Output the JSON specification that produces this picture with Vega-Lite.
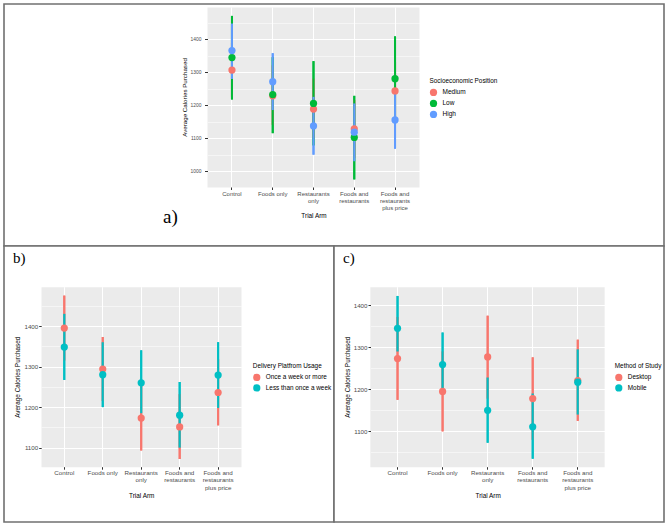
{
  "$schema": "https://vega.github.io/schema/vega-lite/v6.json",
  "padding": {"left": 3, "top": 3, "right": 0, "bottom": 0},
  "background": "white",
  "config": {
    "font": "Liberation Sans",
    "view": {"stroke": "#707070", "strokeWidth": 1.6, "fill": "white"}
  },
  "spacing": 0,
  "bounds": "flush",
  "resolve": {"scale": {"color": "independent", "stroke": "independent"}},
  "datasets": {
    "ses": [
      {"arm": "Control", "group": "Medium", "mean": 1306, "lo": 1225, "hi": 1390},
      {"arm": "Control", "group": "Low", "mean": 1344, "lo": 1217, "hi": 1470},
      {"arm": "Control", "group": "High", "mean": 1365, "lo": 1279, "hi": 1447},
      {"arm": "Foods only", "group": "Medium", "mean": 1228, "lo": 1140, "hi": 1320},
      {"arm": "Foods only", "group": "Low", "mean": 1232, "lo": 1115, "hi": 1345},
      {"arm": "Foods only", "group": "High", "mean": 1271, "lo": 1185, "hi": 1357},
      {"arm": "Restaurants\nonly", "group": "Medium", "mean": 1188, "lo": 1100, "hi": 1280},
      {"arm": "Restaurants\nonly", "group": "Low", "mean": 1205, "lo": 1078, "hi": 1333},
      {"arm": "Restaurants\nonly", "group": "High", "mean": 1137, "lo": 1050, "hi": 1225},
      {"arm": "Foods and\nrestaurants", "group": "Medium", "mean": 1128, "lo": 1040, "hi": 1215},
      {"arm": "Foods and\nrestaurants", "group": "Low", "mean": 1102, "lo": 975, "hi": 1228},
      {"arm": "Foods and\nrestaurants", "group": "High", "mean": 1118, "lo": 1030, "hi": 1205},
      {"arm": "Foods and\nrestaurants\nplus price", "group": "Medium", "mean": 1243, "lo": 1160, "hi": 1330},
      {"arm": "Foods and\nrestaurants\nplus price", "group": "Low", "mean": 1280, "lo": 1150, "hi": 1408},
      {"arm": "Foods and\nrestaurants\nplus price", "group": "High", "mean": 1155, "lo": 1068, "hi": 1240}
    ],
    "delivery": [
      {"arm": "Control", "group": "Once a week or more", "mean": 1395, "lo": 1315, "hi": 1475},
      {"arm": "Control", "group": "Less than once a week", "mean": 1348, "lo": 1267, "hi": 1430},
      {"arm": "Foods only", "group": "Once a week or more", "mean": 1294, "lo": 1215, "hi": 1373},
      {"arm": "Foods only", "group": "Less than once a week", "mean": 1280, "lo": 1200, "hi": 1360},
      {"arm": "Restaurants\nonly", "group": "Once a week or more", "mean": 1173, "lo": 1093, "hi": 1255},
      {"arm": "Restaurants\nonly", "group": "Less than once a week", "mean": 1260, "lo": 1185, "hi": 1340},
      {"arm": "Foods and\nrestaurants", "group": "Once a week or more", "mean": 1151, "lo": 1072, "hi": 1232},
      {"arm": "Foods and\nrestaurants", "group": "Less than once a week", "mean": 1180, "lo": 1100, "hi": 1262},
      {"arm": "Foods and\nrestaurants\nplus price", "group": "Once a week or more", "mean": 1236, "lo": 1155, "hi": 1318},
      {"arm": "Foods and\nrestaurants\nplus price", "group": "Less than once a week", "mean": 1279, "lo": 1198, "hi": 1360}
    ],
    "method": [
      {"arm": "Control", "group": "Desktop", "mean": 1273, "lo": 1175, "hi": 1372},
      {"arm": "Control", "group": "Mobile", "mean": 1345, "lo": 1290, "hi": 1422},
      {"arm": "Foods only", "group": "Desktop", "mean": 1195, "lo": 1100, "hi": 1290},
      {"arm": "Foods only", "group": "Mobile", "mean": 1259, "lo": 1200, "hi": 1335},
      {"arm": "Restaurants\nonly", "group": "Desktop", "mean": 1277, "lo": 1178, "hi": 1375},
      {"arm": "Restaurants\nonly", "group": "Mobile", "mean": 1150, "lo": 1073, "hi": 1228},
      {"arm": "Foods and\nrestaurants", "group": "Desktop", "mean": 1178, "lo": 1080, "hi": 1276},
      {"arm": "Foods and\nrestaurants", "group": "Mobile", "mean": 1111, "lo": 1035, "hi": 1190},
      {"arm": "Foods and\nrestaurants\nplus price", "group": "Desktop", "mean": 1221, "lo": 1125, "hi": 1318},
      {"arm": "Foods and\nrestaurants\nplus price", "group": "Mobile", "mean": 1217, "lo": 1140, "hi": 1295}
    ]
  },
  "vconcat": [
    {
      "width": 660,
      "height": 242,
      "data": {"name": "ses"},
      "title": {"text": "a)", "anchor": "start", "orient": "top", "frame": "group", "font": "Liberation Serif", "fontSize": 19, "fontWeight": "normal", "color": "black", "baseline": "alphabetic", "offset": 0, "dx": 159, "dy": 238},
      "resolve": {"axis": {"x": "independent"}},
      "layer": [
        {
          "mark": {"type": "rule", "strokeWidth": 2},
          "encoding": {
            "x": {"field": "arm", "type": "nominal", "sort": null,
              "scale": {"range": [203.5, 415.5], "paddingInner": 0, "paddingOuter": 0.1},
              "axis": {"orient": "top", "values": ["Restaurants\nonly"], "bandPosition": 0.5, "grid": true, "gridColor": "#EBEBEB", "gridWidth": 212, "gridOpacity": 1, "domain": false, "ticks": false, "labels": false, "title": null}},
            "y": {"field": "lo", "type": "quantitative",
              "scale": {"domain": [952, 1497], "range": [183, 3], "nice": false, "zero": false},
              "axis": {"orient": "left", "offset": -203.5, "title": "Average Calories Purchased", "values": [1000, 1050, 1100, 1150, 1200, 1250, 1300, 1350, 1400, 1450], "format": "d",
                "labelExpr": "datum.value % 100 === 0 ? datum.label : ''",
                "labelFontSize": 4.9, "labelColor": "#4D4D4D", "labelPadding": 3.5,
                "tickSize": 3, "tickColor": "#333333", "tickOpacity": {"condition": {"test": "datum.value % 100 === 0", "value": 1}, "value": 0},
                "domain": false, "grid": true, "gridColor": "white", "gridOpacity": 1,
                "gridWidth": {"condition": {"test": "datum.value % 100 === 0", "value": 1.1}, "value": 0.5},
                "titleFontSize": 6.2, "titleFontWeight": "normal", "titleColor": "black", "titlePadding": 3}},
            "y2": {"field": "hi"},
            "stroke": {"field": "group", "type": "nominal", "scale": {"domain": ["High", "Low", "Medium"], "range": ["#619CFF", "#00BA38", "#F8766D"]}, "legend": null}
          }
        },
        {
          "mark": {"type": "rule", "strokeWidth": 2},
          "encoding": {
            "x": {"field": "arm", "type": "nominal", "sort": null,
              "scale": {"range": [203.5, 415.5], "paddingInner": 0, "paddingOuter": 0.1},
              "axis": {"orient": "top", "bandPosition": 0.5, "grid": true, "gridColor": "white", "gridWidth": 1.1, "gridOpacity": 1, "domain": false, "ticks": false, "labels": false, "title": null}},
            "y": {"field": "lo", "type": "quantitative",
              "scale": {"domain": [952, 1497], "range": [183, 3], "nice": false, "zero": false},
              "axis": {"orient": "left", "offset": -203.5, "title": "Average Calories Purchased", "values": [1000, 1050, 1100, 1150, 1200, 1250, 1300, 1350, 1400, 1450], "format": "d",
                "labelExpr": "datum.value % 100 === 0 ? datum.label : ''",
                "labelFontSize": 4.9, "labelColor": "#4D4D4D", "labelPadding": 3.5,
                "tickSize": 3, "tickColor": "#333333", "tickOpacity": {"condition": {"test": "datum.value % 100 === 0", "value": 1}, "value": 0},
                "domain": false, "grid": true, "gridColor": "white", "gridOpacity": 1,
                "gridWidth": {"condition": {"test": "datum.value % 100 === 0", "value": 1.1}, "value": 0.5},
                "titleFontSize": 6.2, "titleFontWeight": "normal", "titleColor": "black", "titlePadding": 3}},
            "y2": {"field": "hi"},
            "stroke": {"field": "group", "type": "nominal", "scale": {"domain": ["High", "Low", "Medium"], "range": ["#619CFF", "#00BA38", "#F8766D"]}, "legend": null}
          }
        },
        {
          "mark": {"type": "circle", "size": 52, "opacity": 1},
          "encoding": {
            "x": {"field": "arm", "type": "nominal", "sort": null,
              "scale": {"range": [203.5, 415.5], "paddingInner": 0, "paddingOuter": 0.1},
              "axis": {"orient": "bottom", "offset": -59, "title": "Trial Arm", "labelAngle": 0, "bandPosition": 0.5,
                "labelExpr": "split(datum.label, '\\n')", "labelLineHeight": 7.3, "labelFontSize": 6, "labelColor": "#4D4D4D", "labelPadding": 0.5,
                "tickSize": 2.5, "tickColor": "#333333", "domain": false, "grid": false,
                "titleFontSize": 6.4, "titleFontWeight": "normal", "titleColor": "black", "titlePadding": 2}},
            "y": {"field": "mean", "type": "quantitative",
              "scale": {"domain": [952, 1497], "range": [183, 3], "nice": false, "zero": false},
              "axis": {"orient": "left", "offset": -203.5, "title": "Average Calories Purchased", "values": [1000, 1050, 1100, 1150, 1200, 1250, 1300, 1350, 1400, 1450], "format": "d",
                "labelExpr": "datum.value % 100 === 0 ? datum.label : ''",
                "labelFontSize": 4.9, "labelColor": "#4D4D4D", "labelPadding": 3.5,
                "tickSize": 3, "tickColor": "#333333", "tickOpacity": {"condition": {"test": "datum.value % 100 === 0", "value": 1}, "value": 0},
                "domain": false, "grid": true, "gridColor": "white", "gridOpacity": 1,
                "gridWidth": {"condition": {"test": "datum.value % 100 === 0", "value": 1.1}, "value": 0.5},
                "titleFontSize": 6.2, "titleFontWeight": "normal", "titleColor": "black", "titlePadding": 3}},
            "color": {"field": "group", "type": "nominal", "scale": {"domain": ["Medium", "Low", "High"], "range": ["#F8766D", "#00BA38", "#619CFF"]},
              "legend": {"orient": "none", "legendX": 425.5, "legendY": 74, "title": "Socioeconomic Position", "titleFontSize": 6.4, "titleFontWeight": "normal", "titleColor": "black", "titlePadding": 4,
                "labelFontSize": 6.5, "labelColor": "black", "labelOffset": 5, "symbolType": "circle", "symbolSize": 52, "symbolStrokeWidth": 0, "rowPadding": 3}}
          }
        }
      ]
    },
    {
      "hconcat": [
        {
          "width": 330,
          "height": 276,
          "data": {"name": "delivery"},
          "title": {"text": "b)", "anchor": "start", "orient": "top", "frame": "group", "font": "Liberation Serif", "fontSize": 15, "fontWeight": "normal", "color": "black", "baseline": "alphabetic", "offset": 0, "dx": 9, "dy": 32},
          "resolve": {"axis": {"x": "independent"}},
          "layer": [
            {
              "mark": {"type": "rule", "strokeWidth": 2},
              "encoding": {
                "x": {"field": "arm", "type": "nominal", "sort": null,
                  "scale": {"range": [37.2, 237.2], "paddingInner": 0, "paddingOuter": 0.1},
                  "axis": {"orient": "top", "values": ["Restaurants\nonly"], "bandPosition": 0.5, "grid": true, "gridColor": "#EBEBEB", "gridWidth": 200, "gridOpacity": 1, "domain": false, "ticks": false, "labels": false, "title": null}},
                "y": {"field": "lo", "type": "quantitative",
                  "scale": {"domain": [1053, 1497], "range": [220.7, 40.7], "nice": false, "zero": false},
                  "axis": {"orient": "left", "offset": -37.2, "title": "Average Calories Purchased", "values": [1100, 1150, 1200, 1250, 1300, 1350, 1400, 1450], "format": "d",
                    "labelExpr": "datum.value % 100 === 0 ? datum.label : ''",
                    "labelFontSize": 6.2, "labelColor": "#4D4D4D", "labelPadding": 1,
                    "tickSize": 2.5, "tickColor": "#333333", "tickOpacity": {"condition": {"test": "datum.value % 100 === 0", "value": 1}, "value": 0},
                    "domain": false, "grid": true, "gridColor": "white", "gridOpacity": 1,
                    "gridWidth": {"condition": {"test": "datum.value % 100 === 0", "value": 1.1}, "value": 0.5},
                    "titleFontSize": 6.4, "titleFontWeight": "normal", "titleColor": "black", "titlePadding": 3}},
                "y2": {"field": "hi"},
                "stroke": {"field": "group", "type": "nominal", "scale": {"domain": ["Less than once a week", "Once a week or more"], "range": ["#00BFC4", "#F8766D"]}, "legend": null}
              }
            },
            {
              "mark": {"type": "rule", "strokeWidth": 2},
              "encoding": {
                "x": {"field": "arm", "type": "nominal", "sort": null,
                  "scale": {"range": [37.2, 237.2], "paddingInner": 0, "paddingOuter": 0.1},
                  "axis": {"orient": "top", "bandPosition": 0.5, "grid": true, "gridColor": "white", "gridWidth": 1.1, "gridOpacity": 1, "domain": false, "ticks": false, "labels": false, "title": null}},
                "y": {"field": "lo", "type": "quantitative",
                  "scale": {"domain": [1053, 1497], "range": [220.7, 40.7], "nice": false, "zero": false},
                  "axis": {"orient": "left", "offset": -37.2, "title": "Average Calories Purchased", "values": [1100, 1150, 1200, 1250, 1300, 1350, 1400, 1450], "format": "d",
                    "labelExpr": "datum.value % 100 === 0 ? datum.label : ''",
                    "labelFontSize": 6.2, "labelColor": "#4D4D4D", "labelPadding": 1,
                    "tickSize": 2.5, "tickColor": "#333333", "tickOpacity": {"condition": {"test": "datum.value % 100 === 0", "value": 1}, "value": 0},
                    "domain": false, "grid": true, "gridColor": "white", "gridOpacity": 1,
                    "gridWidth": {"condition": {"test": "datum.value % 100 === 0", "value": 1.1}, "value": 0.5},
                    "titleFontSize": 6.4, "titleFontWeight": "normal", "titleColor": "black", "titlePadding": 3}},
                "y2": {"field": "hi"},
                "stroke": {"field": "group", "type": "nominal", "scale": {"domain": ["Less than once a week", "Once a week or more"], "range": ["#00BFC4", "#F8766D"]}, "legend": null}
              }
            },
            {
              "mark": {"type": "circle", "size": 52, "opacity": 1},
              "encoding": {
                "x": {"field": "arm", "type": "nominal", "sort": null,
                  "scale": {"range": [37.2, 237.2], "paddingInner": 0, "paddingOuter": 0.1},
                  "axis": {"orient": "bottom", "offset": -55.3, "title": "Trial Arm", "labelAngle": 0, "bandPosition": 0.5,
                    "labelExpr": "split(datum.label, '\\n')", "labelLineHeight": 7.3, "labelFontSize": 6.2, "labelColor": "#4D4D4D", "labelPadding": 0.5,
                    "tickSize": 2.5, "tickColor": "#333333", "domain": false, "grid": false,
                    "titleFontSize": 6.4, "titleFontWeight": "normal", "titleColor": "black", "titlePadding": 2}},
                "y": {"field": "mean", "type": "quantitative",
                  "scale": {"domain": [1053, 1497], "range": [220.7, 40.7], "nice": false, "zero": false},
                  "axis": {"orient": "left", "offset": -37.2, "title": "Average Calories Purchased", "values": [1100, 1150, 1200, 1250, 1300, 1350, 1400, 1450], "format": "d",
                    "labelExpr": "datum.value % 100 === 0 ? datum.label : ''",
                    "labelFontSize": 6.2, "labelColor": "#4D4D4D", "labelPadding": 1,
                    "tickSize": 2.5, "tickColor": "#333333", "tickOpacity": {"condition": {"test": "datum.value % 100 === 0", "value": 1}, "value": 0},
                    "domain": false, "grid": true, "gridColor": "white", "gridOpacity": 1,
                    "gridWidth": {"condition": {"test": "datum.value % 100 === 0", "value": 1.1}, "value": 0.5},
                    "titleFontSize": 6.4, "titleFontWeight": "normal", "titleColor": "black", "titlePadding": 3}},
                "color": {"field": "group", "type": "nominal", "scale": {"domain": ["Once a week or more", "Less than once a week"], "range": ["#F8766D", "#00BFC4"]},
                  "legend": {"orient": "none", "legendX": 248.8, "legendY": 117, "title": "Delivery Platfrom Usage", "titleFontSize": 6.4, "titleFontWeight": "normal", "titleColor": "black", "titlePadding": 4,
                    "labelFontSize": 6.4, "labelColor": "black", "labelOffset": 5, "symbolType": "circle", "symbolSize": 52, "symbolStrokeWidth": 0, "rowPadding": 2.5}}
              }
            }
          ]
        },
        {
          "width": 330,
          "height": 276,
          "data": {"name": "method"},
          "title": {"text": "c)", "anchor": "start", "orient": "top", "frame": "group", "font": "Liberation Serif", "fontSize": 15, "fontWeight": "normal", "color": "black", "baseline": "alphabetic", "offset": 0, "dx": 9, "dy": 32},
          "resolve": {"axis": {"x": "independent"}},
          "layer": [
            {
              "mark": {"type": "rule", "strokeWidth": 2},
              "encoding": {
                "x": {"field": "arm", "type": "nominal", "sort": null,
                  "scale": {"range": [36.5, 270.8], "paddingInner": 0, "paddingOuter": 0.1},
                  "axis": {"orient": "top", "values": ["Restaurants\nonly"], "bandPosition": 0.5, "grid": true, "gridColor": "#EBEBEB", "gridWidth": 234.3, "gridOpacity": 1, "domain": false, "ticks": false, "labels": false, "title": null}},
                "y": {"field": "lo", "type": "quantitative",
                  "scale": {"domain": [1016, 1444], "range": [220.7, 40.7], "nice": false, "zero": false},
                  "axis": {"orient": "left", "offset": -36.5, "title": "Average Calories Purchased", "values": [1050, 1100, 1150, 1200, 1250, 1300, 1350, 1400], "format": "d",
                    "labelExpr": "datum.value % 100 === 0 ? datum.label : ''",
                    "labelFontSize": 6.2, "labelColor": "#4D4D4D", "labelPadding": 1,
                    "tickSize": 2.5, "tickColor": "#333333", "tickOpacity": {"condition": {"test": "datum.value % 100 === 0", "value": 1}, "value": 0},
                    "domain": false, "grid": true, "gridColor": "white", "gridOpacity": 1,
                    "gridWidth": {"condition": {"test": "datum.value % 100 === 0", "value": 1.1}, "value": 0.5},
                    "titleFontSize": 6.4, "titleFontWeight": "normal", "titleColor": "black", "titlePadding": 3}},
                "y2": {"field": "hi"},
                "stroke": {"field": "group", "type": "nominal", "scale": {"domain": ["Mobile", "Desktop"], "range": ["#00BFC4", "#F8766D"]}, "legend": null}
              }
            },
            {
              "mark": {"type": "rule", "strokeWidth": 2},
              "encoding": {
                "x": {"field": "arm", "type": "nominal", "sort": null,
                  "scale": {"range": [36.5, 270.8], "paddingInner": 0, "paddingOuter": 0.1},
                  "axis": {"orient": "top", "bandPosition": 0.5, "grid": true, "gridColor": "white", "gridWidth": 1.1, "gridOpacity": 1, "domain": false, "ticks": false, "labels": false, "title": null}},
                "y": {"field": "lo", "type": "quantitative",
                  "scale": {"domain": [1016, 1444], "range": [220.7, 40.7], "nice": false, "zero": false},
                  "axis": {"orient": "left", "offset": -36.5, "title": "Average Calories Purchased", "values": [1050, 1100, 1150, 1200, 1250, 1300, 1350, 1400], "format": "d",
                    "labelExpr": "datum.value % 100 === 0 ? datum.label : ''",
                    "labelFontSize": 6.2, "labelColor": "#4D4D4D", "labelPadding": 1,
                    "tickSize": 2.5, "tickColor": "#333333", "tickOpacity": {"condition": {"test": "datum.value % 100 === 0", "value": 1}, "value": 0},
                    "domain": false, "grid": true, "gridColor": "white", "gridOpacity": 1,
                    "gridWidth": {"condition": {"test": "datum.value % 100 === 0", "value": 1.1}, "value": 0.5},
                    "titleFontSize": 6.4, "titleFontWeight": "normal", "titleColor": "black", "titlePadding": 3}},
                "y2": {"field": "hi"},
                "stroke": {"field": "group", "type": "nominal", "scale": {"domain": ["Mobile", "Desktop"], "range": ["#00BFC4", "#F8766D"]}, "legend": null}
              }
            },
            {
              "mark": {"type": "circle", "size": 52, "opacity": 1},
              "encoding": {
                "x": {"field": "arm", "type": "nominal", "sort": null,
                  "scale": {"range": [36.5, 270.8], "paddingInner": 0, "paddingOuter": 0.1},
                  "axis": {"orient": "bottom", "offset": -55.3, "title": "Trial Arm", "labelAngle": 0, "bandPosition": 0.5,
                    "labelExpr": "split(datum.label, '\\n')", "labelLineHeight": 7.3, "labelFontSize": 6.2, "labelColor": "#4D4D4D", "labelPadding": 0.5,
                    "tickSize": 2.5, "tickColor": "#333333", "domain": false, "grid": false,
                    "titleFontSize": 6.4, "titleFontWeight": "normal", "titleColor": "black", "titlePadding": 2}},
                "y": {"field": "mean", "type": "quantitative",
                  "scale": {"domain": [1016, 1444], "range": [220.7, 40.7], "nice": false, "zero": false},
                  "axis": {"orient": "left", "offset": -36.5, "title": "Average Calories Purchased", "values": [1050, 1100, 1150, 1200, 1250, 1300, 1350, 1400], "format": "d",
                    "labelExpr": "datum.value % 100 === 0 ? datum.label : ''",
                    "labelFontSize": 6.2, "labelColor": "#4D4D4D", "labelPadding": 1,
                    "tickSize": 2.5, "tickColor": "#333333", "tickOpacity": {"condition": {"test": "datum.value % 100 === 0", "value": 1}, "value": 0},
                    "domain": false, "grid": true, "gridColor": "white", "gridOpacity": 1,
                    "gridWidth": {"condition": {"test": "datum.value % 100 === 0", "value": 1.1}, "value": 0.5},
                    "titleFontSize": 6.4, "titleFontWeight": "normal", "titleColor": "black", "titlePadding": 3}},
                "color": {"field": "group", "type": "nominal", "scale": {"domain": ["Desktop", "Mobile"], "range": ["#F8766D", "#00BFC4"]},
                  "legend": {"orient": "none", "legendX": 280.8, "legendY": 117, "title": "Method of Study", "titleFontSize": 6.4, "titleFontWeight": "normal", "titleColor": "black", "titlePadding": 4,
                    "labelFontSize": 6.4, "labelColor": "black", "labelOffset": 5, "symbolType": "circle", "symbolSize": 52, "symbolStrokeWidth": 0, "rowPadding": 2.5}}
              }
            }
          ]
        }
      ],
      "spacing": 0,
      "bounds": "flush",
      "resolve": {"scale": {"color": "independent", "stroke": "independent"}}
    }
  ]
}
